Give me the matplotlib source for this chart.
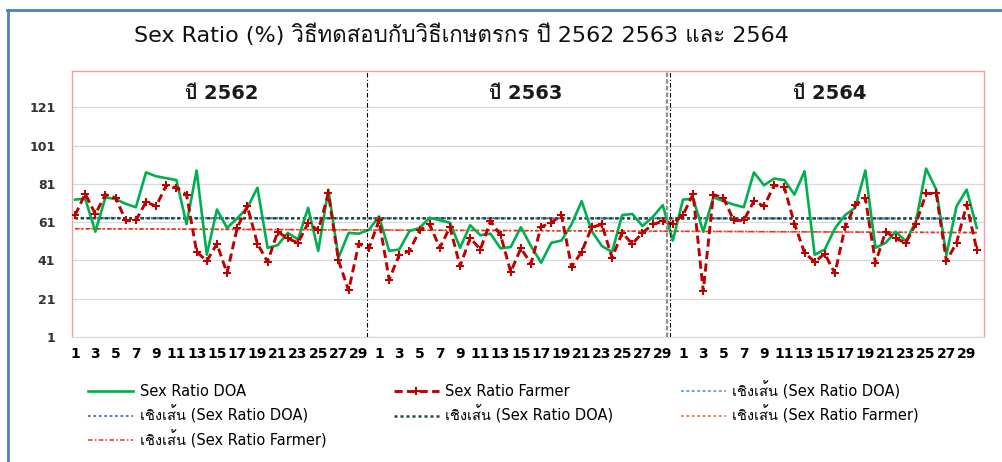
import numpy as np
import matplotlib
matplotlib.use("Agg")
import matplotlib.pyplot as plt
from matplotlib import font_manager
from matplotlib.lines import Line2D

# ---------------------------------------------------------------
# fonts: latin from DejaVu, thai glyphs from any installed thai face
# ---------------------------------------------------------------
thai_font = None
for f in font_manager.fontManager.ttflist:
    if "Thai" in f.name or f.name in ("Loma", "Garuda", "Waree", "Norasi", "Tlwg Typo"):
        thai_font = f.name
        break
families = ["DejaVu Sans"] + ([thai_font] if thai_font else [])
plt.rcParams["font.family"] = families

# ---------------------------------------------------------------
# data
# ---------------------------------------------------------------
years = ["ปี 2562", "ปี 2563", "ปี 2564"]
days_per_year = 30

doa_2562 = [72.8, 73.3, 56, 74, 73, 70.6, 68.8, 87, 85, 84,
            83, 60, 88, 44, 67.6, 58, 63, 68.5, 79, 47.6,
            49, 55.4, 52, 68.5, 46, 78, 42.4, 55.4, 55, 57]
doa_2563 = [64, 46, 46.7, 56.3, 58, 63.3, 62, 60.7, 47.6, 59.4,
            54.2, 55, 47.3, 48, 58.4, 48.5, 39.8, 50.2, 51.4, 59.8,
            72, 56.3, 48.5, 45.5, 64.7, 65.3, 59, 63.6, 69.9, 51.4]
doa_2564 = [72.8, 73.3, 56, 74, 72, 70.2, 68.8, 87, 80.3, 83.8,
            83, 75.4, 87.6, 44, 46.7, 57.7, 64.7, 68.5, 88, 47.6,
            50.2, 56, 51, 61.5, 89, 78, 43.8, 69.3, 78, 58]

farmer_2562 = [64.7, 75.8, 65.3, 75.4, 73.7, 61.9, 61.9, 71.6, 69.3, 80.3,
               78.9, 75.4, 45.5, 40.7, 49.7, 34.4, 58, 69.3, 49.7, 40.3,
               56, 52.5, 50.2, 60.5, 56.7, 76, 41, 25.3, 49.7, 47.3]
farmer_2563 = [62, 31, 44, 45.9, 56.7, 59.8, 47.6, 58.4, 38, 52.8,
               46.7, 61.5, 54.2, 35, 47.3, 39.4, 58.6, 60.7, 64.7, 37.7,
               45.5, 58.4, 59.8, 42.4, 55.4, 49.7, 55.4, 59.8, 61.5, 60.3]
farmer_2564 = [64.7, 75.8, 25, 75.4, 73.7, 61.9, 61.9, 72, 69.3, 80.3,
               79.3, 60.3, 45, 40.3, 44.5, 34.2, 58.4, 69.9, 73.7, 39.8,
               56, 52.5, 50.2, 60.3, 76, 76, 40.7, 50.2, 70.2, 46.7]

doa = np.array(doa_2562 + doa_2563 + doa_2564)
farmer = np.array(farmer_2562 + farmer_2563 + farmer_2564)
x = np.arange(1, len(doa) + 1)

# linear trend lines
doa_fit = np.poly1d(np.polyfit(x, doa, 1))(x)
farmer_fit = np.poly1d(np.polyfit(x, farmer, 1))(x)

# ---------------------------------------------------------------
# figure
# ---------------------------------------------------------------
fig = plt.figure(figsize=(10.02, 4.62), dpi=100)
ax = fig.add_axes([0.0719, 0.2706, 0.910, 0.5757])

GREEN = "#00B050"
RED = "#C00000"

# trend lines (several are stacked on top of each other)
h_lb, = ax.plot(x, doa_fit, color="#5B9BD5", lw=1.3, ls=(0, (1.5, 1.5)), zorder=2)
h_b, = ax.plot(x, doa_fit, color="#4472C4", lw=1.3, ls=(0, (1.5, 1.5)), zorder=2)
h_or, = ax.plot(x, farmer_fit, color="#ED7D31", lw=1.3, ls=(0, (1.5, 1.5)), zorder=2)
h_dg, = ax.plot(x, doa_fit, color="#1F4E2C", lw=1.8, ls=(0, (1.2, 1.2)), zorder=3)
h_rt, = ax.plot(x, farmer_fit, color="#E03030", lw=1.1, ls=(0, (3, 1.5, 1, 1.5)), zorder=3)

# main series
h_doa, = ax.plot(x, doa, color=GREEN, lw=1.9, zorder=4)
h_far, = ax.plot(x, farmer, color=RED, lw=2.1, ls=(0, (2.8, 1.5)),
                 marker="P", markersize=6, markeredgewidth=0, zorder=5)

# year dividers
ax.axvline(29.8, color="black", lw=0.8, ls=(0, (4, 2, 1, 2)), zorder=6)
ax.axvline(59.4, color="#909090", lw=1.6, ls=(0, (2, 1)), zorder=6)
ax.axvline(59.7, color="black", lw=0.8, ls=(0, (4, 2, 1, 2)), zorder=6)

# year labels
for k, label in enumerate(years):
    ax.text(15.5 + k * days_per_year, 128, label, ha="center", va="center",
            fontsize=14, fontweight="bold", color="#1A1A1A")

# axes
ax.set_xlim(0.7, 90.7)
ax.set_ylim(1, 140)
yticks = np.arange(1, 122, 20)
ax.set_yticks(yticks)
ax.set_yticklabels([str(v) for v in yticks])
xticks = np.arange(1, 90, 2)
ax.set_xticks(xticks)
ax.set_xticklabels([str((t - 1) % days_per_year + 1) for t in xticks])
ax.tick_params(axis="both", length=0)
ax.tick_params(axis="y", pad=12, labelsize=9, labelcolor="#333333")
ax.tick_params(axis="x", pad=7, labelsize=10, labelcolor="black")
for lab in ax.get_xticklabels() + ax.get_yticklabels():
    lab.set_fontweight("bold")

ax.grid(axis="y", color="#D9D9D9", lw=0.9)
ax.set_axisbelow(True)
for side in ("left", "top", "right"):
    ax.spines[side].set_color("#F0A0A0")
    ax.spines[side].set_linewidth(1.0)
    ax.spines[side].set_linestyle((0, (1.5, 1)))
ax.spines["bottom"].set_color("#D9D9D9")

# title
fig.text(0.461, 0.924, "Sex Ratio (%) วิธีทดสอบกับวิธีเกษตรกร ปี 2562 2563 และ 2564",
         ha="center", va="center", fontsize=16, color="#111111")

# legend (row-major order across three columns)
handles = [h_doa, h_b, h_rt, h_far, h_dg, h_lb, h_or]
labels = ["Sex Ratio DOA", "เชิงเส้น (Sex Ratio DOA)", "เชิงเส้น (Sex Ratio Farmer)",
          "Sex Ratio Farmer", "เชิงเส้น (Sex Ratio DOA)",
          "เชิงเส้น (Sex Ratio DOA)", "เชิงเส้น (Sex Ratio Farmer)"]
fig.legend(handles, labels, ncol=3, loc="upper left",
           bbox_to_anchor=(0.088, 0.176), frameon=False, fontsize=10.5,
           handlelength=3.1, handletextpad=0.45, columnspacing=4.6,
           labelspacing=0.42, borderpad=0, borderaxespad=0)

# blue frame around the chart
fig.add_artist(Line2D([7 / 1002, 1], [1 - 10 / 462, 1 - 10 / 462],
                      color="#4F81BD", lw=2, transform=fig.transFigure))
fig.add_artist(Line2D([8 / 1002, 8 / 1002], [0, 1 - 10 / 462],
                      color="#4F81BD", lw=2, transform=fig.transFigure))

fig.savefig("out.png", dpi=100)
